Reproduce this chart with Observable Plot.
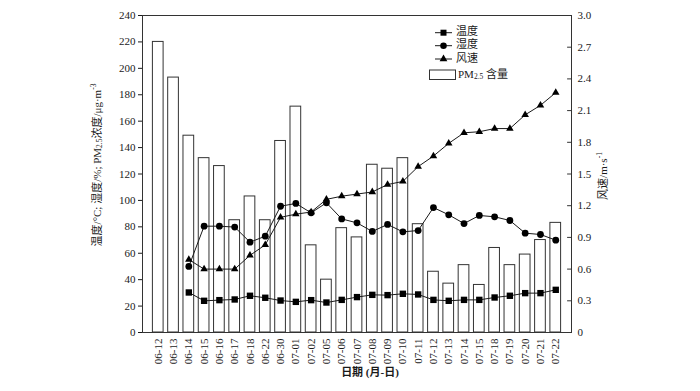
<!DOCTYPE html>
<html><head><meta charset="utf-8">
<script src="https://cdn.jsdelivr.net/npm/d3@7"></script>
<script src="https://cdn.jsdelivr.net/npm/@observablehq/plot@0.6"></script>
<style>
body{margin:0;background:#fff}
#chart svg{font-family:"Liberation Serif","Noto Sans CJK SC",serif;}
</style>
</head><body><div id="chart"></div>
<script>
const dates = ["06-12","06-13","06-14","06-15","06-16","06-17","06-18","06-22","06-30","07-01","07-02","07-05","07-06","07-07","07-08","07-09","07-10","07-11","07-12","07-13","07-14","07-15","07-18","07-19","07-20","07-21","07-22"];
const pm25 = [220,193,149,132,126,85,103,85,145,171,66,40,79,72,127,124,132,82,46,37,51,36,64,51,59,70,83];
const temperature = [null,null,30.3,24,24.5,25,27.8,26.3,24.2,23.2,24.5,22.7,24.7,26.8,28.5,28.3,29.3,28.8,24.7,24,24.7,24.7,26.5,27.8,29.8,29.8,32.3];
const humidity = [null,null,50,80.5,80.5,79.8,68.4,72.9,95.6,97.7,90.6,98.2,86,83,76.5,81.8,76.2,77.2,94.6,89.1,82.5,88.6,87.6,84.8,75.2,74.2,69.9];
const windSpeed = [null,null,0.69,0.6,0.6,0.6,0.73,0.83,1.09,1.12,1.14,1.26,1.29,1.31,1.33,1.4,1.43,1.57,1.67,1.79,1.89,1.9,1.93,1.93,2.06,2.15,2.27];
const leftTicks = [0,20,40,60,80,100,120,140,160,180,200,220,240];
const rightTicks = [0,0.3,0.6,0.9,1.2,1.5,1.8,2.1,2.4,2.7,3.0];
const leftMax = 240, rightMax = 3.0;
const k = leftMax / rightMax; // maps wind speed onto the left scale

const rows = dates.map((d, i) => ({date: d, pm: pm25[i], t: temperature[i], h: humidity[i], w: windSpeed[i]}));
const measured = rows.filter(r => r.t != null);

const tickShape = {draw(ctx, l) { ctx.moveTo(0, 0); ctx.lineTo(0, -l); }};
const ink = "#1a1a1a";

const chart = Plot.plot({
  width: 700, height: 391,
  marginLeft: 142, marginRight: 129, marginTop: 15, marginBottom: 59,
  style: {fontFamily: '"Liberation Serif","Noto Sans CJK SC",serif', fontSize: "11px", color: ink, background: "#fff"},
  x: {type: "band", domain: dates, paddingInner: 0.3, paddingOuter: 0.68, round: false},
  y: {domain: [0, leftMax]},
  marks: [
    Plot.barY(rows, {x: "date", y: "pm", fill: "white", stroke: "#333", strokeWidth: 1}),
    Plot.line(measured, {x: "date", y: "t", stroke: ink, strokeWidth: 1}),
    Plot.dot(measured, {x: "date", y: "t", symbol: "square", r: 3.6, fill: "#000", stroke: "none"}),
    Plot.line(measured, {x: "date", y: "h", stroke: ink, strokeWidth: 1}),
    Plot.dot(measured, {x: "date", y: "h", symbol: "circle", r: 3.4, fill: "#000", stroke: "none"}),
    Plot.line(measured, {x: "date", y: d => d.w * k, stroke: ink, strokeWidth: 1}),
    Plot.dot(measured, {x: "date", y: d => d.w * k, symbol: "triangle", r: 2.8, fill: "#000", stroke: "none"}),
    Plot.frame({stroke: "#333", strokeWidth: 1}),
    Plot.axisY(leftTicks, {anchor: "left", tickSize: 4, tickPadding: 3, label: null}),
    Plot.axisY(rightTicks.map(v => v * k), {anchor: "right", tickSize: 0, tickPadding: 6, label: null,
      tickFormat: v => (v === 0 ? "0" : (v / k).toFixed(1))}),
    Plot.vector(rightTicks.map(v => v * k), {y: d => d, frameAnchor: "right", rotate: -90, length: 4, anchor: "start", shape: tickShape, stroke: "#333", strokeWidth: 1}),
    Plot.axisX({tickRotate: -90, tickSize: 0, tickPadding: 6, label: null})
  ]
});

document.getElementById("chart").appendChild(chart);

// titles and legend
const svg = d3.select(chart);
const fam = '"Liberation Serif","Noto Sans CJK SC",serif';

const lt = svg.append("text").attr("transform", "translate(98,165) rotate(-90)")
  .attr("text-anchor", "middle").attr("dominant-baseline", "middle")
  .attr("font-size", 11).attr("fill", ink).attr("font-family", fam);
lt.append("tspan").text("温度/°C; 湿度/%; PM");
lt.append("tspan").attr("font-size", 7.5).attr("dy", 2).text("2.5");
lt.append("tspan").attr("dy", -2).text("浓度/μg·m");
lt.append("tspan").attr("font-size", 7.5).attr("dy", -4).text("-3");

const rt = svg.append("text").attr("transform", "translate(604,176) rotate(-90)")
  .attr("text-anchor", "middle").attr("dominant-baseline", "middle")
  .attr("font-size", 11).attr("fill", ink).attr("font-family", fam);
rt.append("tspan").text("风速/m·s");
rt.append("tspan").attr("font-size", 7.5).attr("dy", -4).text("-1");

svg.append("text").attr("x", 370).attr("y", 373)
  .attr("text-anchor", "middle").attr("dominant-baseline", "middle")
  .attr("font-size", 11).attr("font-weight", "bold").attr("fill", ink).attr("font-family", fam)
  .text("日期 (月-日)");

const legendItems = [
  {label: "温度", symbol: d3.symbolSquare, size: 36, y: 32.7},
  {label: "湿度", symbol: d3.symbolCircle, size: 34, y: 45.7},
  {label: "风速", symbol: d3.symbolTriangle, size: 26, y: 59}
];
const lg = svg.append("g").attr("text-anchor", "start");
for (const it of legendItems) {
  lg.append("line").attr("x1", 435).attr("x2", 452).attr("y1", it.y).attr("y2", it.y).attr("stroke", ink);
  lg.append("path").attr("d", d3.symbol(it.symbol, it.size)()).attr("transform", `translate(443.5,${it.y})`).attr("fill", "#000");
  lg.append("text").attr("x", 456).attr("y", it.y).attr("dominant-baseline", "middle").attr("text-anchor", "start")
    .attr("font-size", 11).attr("fill", ink).attr("font-family", fam).text(it.label);
}
lg.append("rect").attr("x", 429.5).attr("y", 70).attr("width", 26).attr("height", 9.5)
  .attr("fill", "white").attr("stroke", "#333");
const pt = lg.append("text").attr("x", 458).attr("y", 75).attr("dominant-baseline", "middle").attr("text-anchor", "start")
  .attr("font-size", 11).attr("fill", ink).attr("font-family", fam);
pt.append("tspan").text("PM");
pt.append("tspan").attr("font-size", 7.5).attr("dy", 2).text("2.5");
pt.append("tspan").attr("dy", -2).text(" 含量");
</script>
</body></html>
